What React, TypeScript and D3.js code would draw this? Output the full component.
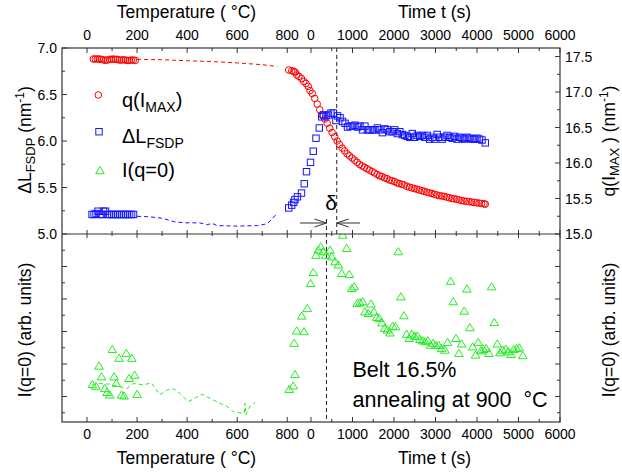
import React from "react";
import * as d3 from "d3";

// ---------- data ----------
// q(I_MAX) (nm^-1) vs temperature (°C), heating stage, symbols
const qTempSym: [number, number][] = [
  [25, 17.465], [33, 17.465], [41, 17.465], [49, 17.465], [57, 17.46], [65, 17.455], [73, 17.445],
  [81, 17.45], [89, 17.46], [97, 17.46], [105, 17.465], [113, 17.46], [121, 17.46], [129, 17.45],
  [137, 17.45], [145, 17.455], [153, 17.45], [161, 17.445], [169, 17.445], [177, 17.45], [185, 17.45], [193, 17.445],
  [806, 17.31], [818, 17.30], [826, 17.29], [832, 17.28], [838, 17.24], [847, 17.22], [857, 17.19],
  [866, 17.15], [875, 17.12], [884, 17.08], [891, 17.02],
];
// q(I_MAX) dashed guide, heating stage
const qTempLine: [number, number][] = [
  [200, 17.46], [300, 17.455], [400, 17.44], [500, 17.43], [600, 17.41], [700, 17.385], [760, 17.36],
];
// q(I_MAX) vs annealing time (s)
const qTime: [number, number][] = [
  [30, 16.98], [90, 16.91], [150, 16.83], [210, 16.75], [270, 16.68], [330, 16.62], [390, 16.56],
  [450, 16.49], [510, 16.43], [570, 16.37], [630, 16.31], [690, 16.26], [750, 16.21], [810, 16.17],
  [870, 16.13], [930, 16.10], [990, 16.07], [1050, 16.04], [1110, 16.01], [1170, 15.98], [1230, 15.96],
  [1290, 15.94], [1350, 15.92], [1410, 15.90], [1470, 15.88], [1530, 15.86], [1590, 15.84], [1650, 15.82],
  [1710, 15.81], [1770, 15.79], [1830, 15.78], [1890, 15.76], [1950, 15.75], [2010, 15.74], [2070, 15.72],
  [2130, 15.71], [2190, 15.70], [2250, 15.69], [2310, 15.67], [2370, 15.66], [2430, 15.65], [2490, 15.64],
  [2550, 15.63], [2610, 15.62], [2670, 15.61], [2730, 15.60], [2790, 15.59], [2850, 15.58], [2910, 15.57],
  [2970, 15.56], [3030, 15.55], [3090, 15.54], [3150, 15.535], [3210, 15.53], [3270, 15.52], [3330, 15.51],
  [3390, 15.50], [3450, 15.495], [3510, 15.49], [3570, 15.48], [3630, 15.47], [3690, 15.465], [3750, 15.46],
  [3810, 15.455], [3870, 15.45], [3930, 15.445], [3990, 15.44], [4050, 15.435], [4110, 15.43], [4170, 15.425],
  [4200, 15.42],
];
// ΔL_FSDP (nm^-1) vs temperature, symbols
const dlTempSym: [number, number][] = [
  [20, 5.21], [28, 5.21], [36, 5.22], [44, 5.245], [52, 5.21], [60, 5.21], [66, 5.245], [74, 5.245],
  [82, 5.21], [90, 5.21], [98, 5.21], [106, 5.21], [114, 5.21], [122, 5.21], [130, 5.21], [138, 5.21],
  [146, 5.21], [154, 5.21], [162, 5.21], [170, 5.21], [178, 5.21], [186, 5.21],
  [806, 5.28], [818, 5.31], [826, 5.34], [831, 5.37], [841, 5.40], [857, 5.44], [868, 5.54], [877, 5.67], [893, 5.77],
];
// ΔL_FSDP dashed guide, heating stage
const dlTempLine: [number, number][] = [
  [200, 5.19], [250, 5.185], [300, 5.17], [350, 5.13], [400, 5.12], [450, 5.12], [480, 5.10], [500, 5.115],
  [520, 5.09], [600, 5.085], [680, 5.09], [720, 5.11], [760, 5.22],
];
// ΔL_FSDP vs annealing time (s)
const dlTime: [number, number][] = [
  [55, 5.89], [120, 6.03], [200, 6.14], [258, 6.26], [300, 6.28], [361, 6.27], [420, 6.28], [480, 6.30],
  [537, 6.30], [600, 6.22], [640, 6.27], [700, 6.25], [760, 6.21], [820, 6.19], [880, 6.15], [940, 6.16],
  [1000, 6.16], [1060, 6.17], [1120, 6.15], [1180, 6.16], [1240, 6.12], [1300, 6.16], [1360, 6.12],
  [1420, 6.12], [1480, 6.12], [1540, 6.12], [1600, 6.14], [1660, 6.12], [1720, 6.09], [1780, 6.13],
  [1840, 6.12], [1900, 6.10], [1960, 6.10], [2020, 6.12], [2080, 6.08], [2140, 6.10], [2200, 6.07],
  [2260, 6.06], [2320, 6.05], [2380, 6.04], [2440, 6.08], [2500, 6.04], [2560, 6.06], [2620, 6.05],
  [2680, 6.06], [2740, 6.04], [2800, 6.06], [2860, 6.02], [2920, 6.04], [2980, 6.02], [3040, 6.07],
  [3100, 6.04], [3160, 6.02], [3220, 6.04], [3280, 6.06], [3340, 6.04], [3400, 6.03], [3460, 6.05],
  [3520, 6.02], [3580, 6.04], [3640, 6.03], [3700, 6.02], [3760, 6.04], [3820, 6.03], [3880, 6.02],
  [3940, 6.02], [4000, 6.03], [4060, 6.02], [4120, 6.01], [4200, 5.98],
];
// I(q=0) (arb. units) vs temperature, symbols
const iTempSym: [number, number][] = [
  [21, 0.37], [35, 0.32], [48, 0.94], [58, 0.61], [71, 0.25], [80, 0.13], [91, 0.05], [101, 1.45],
  [108, 0.61], [117, 0.41], [128, 1.18], [138, 0.05], [148, 0.02], [157, 1.33], [168, 0.56], [179, 1.18],
  [190, 0.66], [200, 0.07],
  [808, 0.22], [824, 0.33], [831, 0.68], [828, 1.64], [838, 2.02], [858, 2.48], [867, 2.0], [880, 2.71], [893, 3.48],
];
// I(q=0) dashed guide, heating stage
const iTempLine: [number, number][] = [
  [20, 0.35], [50, 0.40], [90, 0.38], [130, 0.30], [160, 0.25], [185, 0.40], [225, 0.36], [258, 0.42],
  [290, 0.05], [320, 0.20], [345, 0.24], [370, 0.10], [405, -0.16], [440, -0.01], [460, 0.07], [505, -0.11],
  [560, -0.31], [585, -0.47], [610, -0.50], [628, -0.52], [631, -0.21], [635, -0.57], [650, -0.31], [672, -0.19],
];
// I(q=0) vs annealing time (s)
const iTime: [number, number][] = [
  [56, 3.82], [120, 4.35], [176, 4.51], [234, 4.61], [296, 4.46], [361, 4.35], [458, 4.51], [498, 4.30],
  [578, 4.15], [658, 4.05], [738, 3.79], [763, 4.97], [859, 4.56], [923, 3.76], [981, 3.33], [1043, 3.38],
  [1116, 2.87], [1180, 2.89], [1245, 2.92], [1300, 2.61], [1381, 2.56], [1445, 2.85], [1517, 2.61],
  [1582, 2.44], [1645, 2.41], [1710, 2.27], [1775, 2.10], [1838, 2.05], [1902, 1.96], [1967, 2.17],
  [2039, 2.15], [2102, 4.46], [2167, 3.07], [2239, 2.49], [2304, 1.92], [2367, 1.79], [2432, 1.92],
  [2497, 1.86], [2560, 1.86], [2625, 1.76], [2690, 1.72], [2752, 1.69], [2817, 1.72], [2882, 1.58],
  [2945, 1.64], [3010, 1.58], [3075, 1.58], [3147, 1.48], [3227, 1.43], [3292, 1.67], [3364, 3.55],
  [3427, 2.92], [3492, 1.79], [3564, 1.33], [3629, 1.62], [3692, 2.63], [3757, 3.31], [3829, 2.12],
  [3894, 1.53], [3966, 1.28], [4029, 1.67], [4094, 1.41], [4159, 1.45], [4222, 1.48], [4287, 1.33],
  [4352, 3.38], [4416, 2.28], [4489, 1.62], [4554, 1.35], [4618, 1.43], [4691, 1.46], [4754, 1.38],
  [4819, 1.30], [4884, 1.45], [4956, 1.48], [5019, 1.50], [5101, 1.26],
];
// markers (s): time of ΔL maximum and of I(q=0) maximum
const dlPeakTime = 620;
const iPeakTime = 373;

const tempTicks = d3.range(0, 801, 100);
const timeTicks = d3.range(0, 6001, 500);
const dlTicks = d3.range(5, 7.001, 0.25);
const qTicks = d3.range(15, 17.51, 0.25);
const iTicks = d3.range(-0.5, 4.51, 0.5);

// ---------- layout ----------
const W = 622, H = 476;
const L = 62, R = 560, T = 48, M = 234, B = 422;
const RED = "#ff0000", BLUE = "#1414ff", GREEN = "#22ee22", AX = "#333";
const FONT = "'Liberation Sans', Arial, sans-serif";

const xT = d3.scaleLinear().domain([-100, 895]).range([L, 311]);
const xt = d3.scaleLinear().domain([0, 6000]).range([311, R]);
const yDL = d3.scaleLinear().domain([5, 7]).range([M, T]);
const yQ = d3.scaleLinear().domain([15, 17.62]).range([M, T]);
const yI = d3.scaleLinear().domain([-0.785, 5]).range([B, M]);

const near = (a: number, b: number) => Math.abs(a - b) < 1e-6;

function Circle({ x, y }: { x: number; y: number }) {
  return <circle cx={x} cy={y} r={3.3} fill="none" stroke={RED} strokeWidth={1} />;
}
function Square({ x, y }: { x: number; y: number }) {
  return <rect x={x - 3.2} y={y - 3.2} width={6.4} height={6.4} fill="none" stroke={BLUE} strokeWidth={1} />;
}
function Tri({ x, y }: { x: number; y: number }) {
  return <path d={`M${x},${y - 4}L${x + 4.3},${y + 3.2}L${x - 4.3},${y + 3.2}Z`} fill="none" stroke={GREEN} strokeWidth={1} />;
}

export default function App() {
  const lineT = (ys: d3.ScaleLinear<number, number>) =>
    d3.line<[number, number]>().x((d) => xT(d[0])).y((d) => ys(d[1]));

  const xTicks: { x: number; major: boolean; label: string }[] = [
    ...tempTicks.map((v) => ({ x: xT(v), major: v % 200 === 0, label: v % 200 === 0 ? String(v) : "" })),
    ...timeTicks.map((v) => ({ x: xt(v), major: v % 1000 === 0, label: v % 1000 === 0 ? String(v) : "" })),
  ];

  const txt = { fontFamily: FONT, fill: "#000" } as const;

  return (
    <svg width={W} height={H} style={{ position: "absolute", left: 0, top: 0, background: "#fff" }}>
      <rect width={W} height={H} fill="#fff" />
      {/* dashed guides */}
      <path d={lineT(yQ)(qTempLine) || ""} fill="none" stroke={RED} strokeWidth={1} strokeDasharray="4,3" />
      <path d={lineT(yDL)(dlTempLine) || ""} fill="none" stroke={BLUE} strokeWidth={1} strokeDasharray="4,3" />
      <path d={lineT(yI)(iTempLine) || ""} fill="none" stroke={GREEN} strokeWidth={1} strokeDasharray="4,3" />

      {/* markers vertical */}
      <line x1={xt(dlPeakTime)} x2={xt(dlPeakTime)} y1={T} y2={M} stroke="#222" strokeDasharray="4,3" />
      <line x1={xt(iPeakTime)} x2={xt(iPeakTime)} y1={219} y2={B} stroke="#222" strokeDasharray="4,3" />

      {/* symbols */}
      <g>
        {qTempSym.map((d, i) => <Circle key={"qa" + i} x={xT(d[0])} y={yQ(d[1])} />)}
        {qTime.map((d, i) => <Circle key={"qb" + i} x={xt(d[0])} y={yQ(d[1])} />)}
        {dlTempSym.map((d, i) => <Square key={"da" + i} x={xT(d[0])} y={yDL(d[1])} />)}
        {dlTime.map((d, i) => <Square key={"db" + i} x={xt(d[0])} y={yDL(d[1])} />)}
      </g>
      <g>
        <clipPath id="bot"><rect x={L} y={M} width={R - L} height={B - M} /></clipPath>
        <g clipPath="url(#bot)">
          {iTempSym.map((d, i) => <Tri key={"ia" + i} x={xT(d[0])} y={yI(d[1])} />)}
          {iTime.map((d, i) => <Tri key={"ib" + i} x={xt(d[0])} y={yI(d[1])} />)}
        </g>
      </g>

      {/* delta annotation */}
      <g stroke="#333" strokeWidth={1} fill="none">
        <line x1={300} x2={xt(iPeakTime)} y1={223} y2={223} />
        <path d={`M${xt(iPeakTime) - 12},219L${xt(iPeakTime)},223L${xt(iPeakTime) - 12},227`} />
        <line x1={xt(dlPeakTime)} x2={360} y1={223} y2={223} />
        <path d={`M${xt(dlPeakTime) + 12},219L${xt(dlPeakTime)},223L${xt(dlPeakTime) + 12},227`} />
      </g>
      <text x={331} y={210} textAnchor="middle" fontSize={21} {...txt}>δ</text>

      {/* frame */}
      <g stroke={AX} strokeWidth={1.2} fill="none">
        <rect x={L} y={T} width={R - L} height={B - T} />
        <line x1={L} x2={R} y1={M} y2={M} />
      </g>

      {/* x ticks */}
      <g stroke={AX} strokeWidth={1}>
        {xTicks.map((t, i) => (
          <g key={"xt" + i}>
            <line x1={t.x} x2={t.x} y1={T} y2={T + (t.major ? 5 : 3)} />
            <line x1={t.x} x2={t.x} y1={B} y2={B - (t.major ? 5 : 3)} />
            <line x1={t.x} x2={t.x} y1={M - (t.major ? 4 : 3)} y2={M + (t.major ? 4 : 2)} />
          </g>
        ))}
      </g>
      <g fontSize={14} textAnchor="middle" {...txt}>
        {xTicks.filter((t) => t.label).map((t, i) => (
          <g key={"xl" + i}>
            <text x={t.x} y={39.5}>{t.label}</text>
            <text x={t.x} y={438.5}>{t.label}</text>
          </g>
        ))}
      </g>

      {/* y ticks */}
      <g stroke={AX} strokeWidth={1}>
        {dlTicks.map((v, i) => {
          const major = near((v * 2) % 1, 0);
          return <line key={"yl" + i} x1={L} x2={L + (major ? 5 : 3)} y1={yDL(v)} y2={yDL(v)} />;
        })}
        {qTicks.map((v, i) => {
          const major = near((v * 2) % 1, 0);
          return <line key={"yr" + i} x1={R} x2={R - (major ? 5 : 3)} y1={yQ(v)} y2={yQ(v)} />;
        })}
        {iTicks.map((v, i) => {
          const major = near(v % 1, 0);
          return (
            <g key={"yi" + i}>
              <line x1={L} x2={L + (major ? 5 : 3)} y1={yI(v)} y2={yI(v)} />
              <line x1={R} x2={R - (major ? 5 : 3)} y1={yI(v)} y2={yI(v)} />
            </g>
          );
        })}
      </g>
      <g fontSize={14} {...txt}>
        {dlTicks.filter((v) => near((v * 2) % 1, 0)).map((v, i) => (
          <text key={"ylt" + i} x={57} y={yDL(v)} dy="0.36em" textAnchor="end">{v.toFixed(1)}</text>
        ))}
        {qTicks.filter((v) => near((v * 2) % 1, 0)).map((v, i) => (
          <text key={"yrt" + i} x={565} y={yQ(v)} dy="0.36em" textAnchor="start">{v.toFixed(1)}</text>
        ))}
      </g>

      {/* axis titles */}
      <g fontSize={17.5} textAnchor="middle" {...txt}>
        <text x={186.5} y={18} style={{ whiteSpace: "pre" }}>Temperature ( °C)</text>
        <text x={186.5} y={464} style={{ whiteSpace: "pre" }}>Temperature ( °C)</text>
        <text x={434.5} y={18}>Time t (s)</text>
        <text x={434.5} y={464}>Time t (s)</text>
        <text transform={`translate(31,140) rotate(-90)`}>
          ΔL<tspan fontSize={13} dy={4}>FSDP</tspan><tspan dy={-4}> (nm</tspan>
          <tspan fontSize={12} dy={-7}>-1</tspan><tspan dy={7}>)</tspan>
        </text>
        <text transform={`translate(615,141) rotate(-90)`}>
          q(I<tspan fontSize={13} dy={4}>MAX</tspan><tspan dy={-4}> ) (nm</tspan>
          <tspan fontSize={12} dy={-7}>-1</tspan><tspan dy={7}>)</tspan>
        </text>
        <text transform={`translate(31,330) rotate(-90)`}>I(q=0) (arb. units)</text>
        <text transform={`translate(615,330) rotate(-90)`}>I(q=0) (arb. units)</text>
      </g>

      {/* legend */}
      <Circle x={98.3} y={95} />
      <Square x={99} y={131.7} />
      <Tri x={100} y={170.5} />
      <g fontSize={20} {...txt}>
        <text x={122} y={106.5}>q(I<tspan fontSize={14} dy={5}>MAX</tspan><tspan dy={-5}>)</tspan></text>
        <text x={122} y={143}>ΔL<tspan fontSize={14} dy={5}>FSDP</tspan></text>
        <text x={122} y={177}>I(q=0)</text>
      </g>

      {/* annotation */}
      <g fontSize={21.5} {...txt}>
        <text x={352.5} y={376.5}>Belt 16.5%</text>
        <text x={352.5} y={406.5} style={{ whiteSpace: "pre" }}>annealing at 900  °C</text>
      </g>
    </svg>
  );
}
